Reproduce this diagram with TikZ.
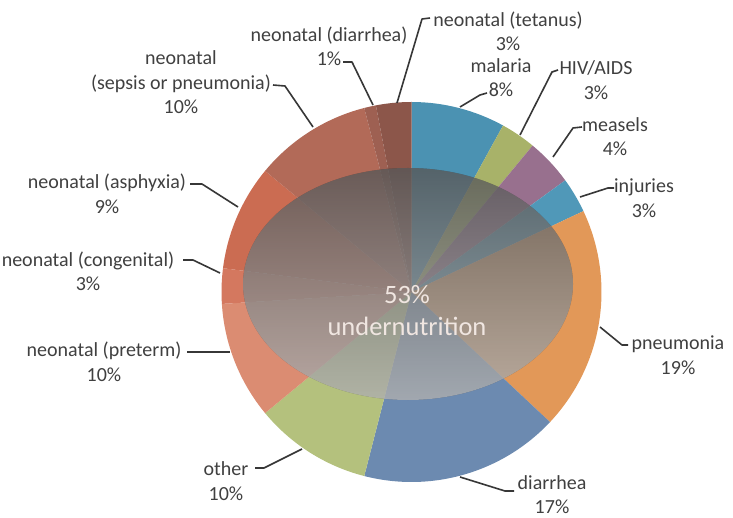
\documentclass[tikz,border=0pt]{standalone}
\usepackage{fontspec}
\setmainfont{Carlito}
% slice colours
\definecolor{cMalaria}{RGB}{75,146,178}
\definecolor{cHIV}{RGB}{168,178,105}
\definecolor{cMeasles}{RGB}{152,112,142}
\definecolor{cInjury}{RGB}{80,152,184}
\definecolor{cPneu}{RGB}{226,152,88}
\definecolor{cDiar}{RGB}{108,138,176}
\definecolor{cOther}{RGB}{180,193,125}
\definecolor{cPreterm}{RGB}{219,140,114}
\definecolor{cCongen}{RGB}{212,120,95}
\definecolor{cAsphyx}{RGB}{203,108,82}
\definecolor{cSepsis}{RGB}{178,106,88}
\definecolor{cNeoDiar}{RGB}{158,96,82}
\definecolor{cTetanus}{RGB}{140,86,74}
\definecolor{shade}{RGB}{95,70,64}
\definecolor{labelgray}{RGB}{64,64,64}
\definecolor{leadergray}{RGB}{55,55,55}
\definecolor{centertext}{RGB}{240,230,225}
\begin{document}
\begin{tikzpicture}[x=1pt,y=-1pt,
  lbl/.style={font=\fontsize{20}{24.5}\selectfont, text=labelgray, align=center, inner sep=0pt},
  leader/.style={draw=leadergray, line width=1.6pt, line join=round},
  centerlbl/.style={font=\fontsize{26.5}{32}\selectfont, text=centertext, align=center, inner sep=0pt}]
\useasboundingbox (0,0) rectangle (733,518);
\fill[white] (0,0) rectangle (733,518);
\clip (0,0) rectangle (733,518);

% pie slices, clockwise from twelve o'clock
\begin{scope}[shift={(411.5,292)}, x=1pt, y=1pt]
  \foreach \a/\b/\c in {90/61.2/cMalaria, 61.2/50.4/cHIV, 50.4/36/cMeasles,
      36/25.2/cInjury, 25.2/-43.2/cPneu, -43.2/-104.4/cDiar,
      -104.4/-140.4/cOther, -140.4/-176.4/cPreterm, -176.4/-187.2/cCongen,
      -187.2/-219.6/cAsphyx, -219.6/-255.6/cSepsis, -255.6/-259.2/cNeoDiar,
      -259.2/-270/cTetanus}
    \fill[\c] (0,0) -- (\a:190) arc[start angle=\a, end angle=\b, radius=190] -- cycle;
\end{scope}

% undernutrition share
\fill[shade, fill opacity=0.55] (408,284) ellipse [x radius=165, y radius=116];
\node[centerlbl] (under) at (407,311) {53\%\\undernutrition};

% labels
\node[lbl] (tet)  at (508,31.5)  {neonatal (tetanus)\\3\%};
\node[lbl] (ndia) at (329,46.5)  {neonatal (diarrhea)\\1\%};
\node[lbl] (seps) at (181,82.5)  {neonatal\\(sepsis or pneumonia)\\10\%};
\node[lbl] (asph) at (107,194)   {neonatal (asphyxia)\\9\%};
\node[lbl] (cong) at (88,271.5)  {neonatal (congenital)\\3\%};
\node[lbl] (pret) at (104,362)   {neonatal (preterm)\\10\%};
\node[lbl] (oth)  at (226,481)   {other\\10\%};
\node[lbl] (diar) at (552,494.5) {diarrhea\\17\%};
\node[lbl] (pneu) at (678,355)   {pneumonia\\19\%};
\node[lbl] (inj)  at (644,198)   {injuries\\3\%};
\node[lbl] (meas) at (615,136.5) {measels\\4\%};
\node[lbl] (hiv)  at (596,80)    {HIV/AIDS\\3\%};
\node[lbl] (mal)  at (501,77.5)  {malaria\\8\%};

% leader line points: label end, bend, slice edge
\coordinate (tetA) at (430,18);  \coordinate (tetB) at (422,19);  \coordinate (tetC) at (397,103);
\coordinate (ndiA) at (343,62);  \coordinate (ndiB) at (352,62);  \coordinate (ndiC) at (373,105);
\coordinate (sepA) at (273,85);  \coordinate (sepB) at (285,86);  \coordinate (sepC) at (313,127);
\coordinate (aspA) at (190,184); \coordinate (aspB) at (202,184); \coordinate (aspC) at (238,207);
\coordinate (conA) at (183,260); \coordinate (conB) at (193,260); \coordinate (conC) at (220,273);
\coordinate (preA) at (187,352); \coordinate (preC) at (230,352);
\coordinate (othA) at (255,468); \coordinate (othB) at (264,468); \coordinate (othC) at (302,449);
\coordinate (diaA) at (514,491); \coordinate (diaB) at (505,491); \coordinate (diaC) at (460,477);
\coordinate (pneA) at (628,345); \coordinate (pneB) at (622,345); \coordinate (pneC) at (600,327);
\coordinate (injA) at (614,188); \coordinate (injB) at (608,188); \coordinate (injC) at (580,197);
\coordinate (meaA) at (582,127); \coordinate (meaB) at (573,128); \coordinate (meaC) at (553,157);
\coordinate (hivA) at (558,70);  \coordinate (hivB) at (552,72);  \coordinate (hivC) at (520,135);
\coordinate (malA) at (487,93);  \coordinate (malB) at (480,95);  \coordinate (malC) at (460,107);

\draw[leader] (tetA) -- (tetB) -- (tetC);
\draw[leader] (ndiA) -- (ndiB) -- (ndiC);
\draw[leader] (sepA) -- (sepB) -- (sepC);
\draw[leader] (aspA) -- (aspB) -- (aspC);
\draw[leader] (conA) -- (conB) -- (conC);
\draw[leader] (preA) -- (preC);
\draw[leader] (othA) -- (othB) -- (othC);
\draw[leader] (diaA) -- (diaB) -- (diaC);
\draw[leader] (pneA) -- (pneB) -- (pneC);
\draw[leader] (injA) -- (injB) -- (injC);
\draw[leader] (meaA) -- (meaB) -- (meaC);
\draw[leader] (hivA) -- (hivB) -- (hivC);
\draw[leader] (malA) -- (malB) -- (malC);
\end{tikzpicture}
\end{document}
